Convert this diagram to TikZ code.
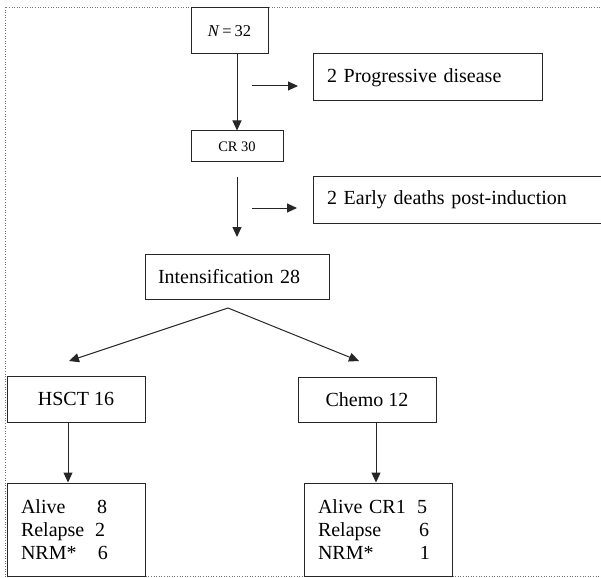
\documentclass[tikz,border=0pt]{standalone}
\usepackage{fontspec}
\setmainfont{Liberation Serif}
\usetikzlibrary{arrows.meta}
\begin{document}
\begin{tikzpicture}[x=1pt,y=-1pt,
  box/.style={draw=black!85,line width=1pt,inner sep=0pt,font=\fontsize{20}{23}\selectfont,text=black},
  lbox/.style={box,align=left,inner xsep=14pt},
  arr/.style={draw=black!85,line width=1pt,-{Triangle[length=10pt,width=9pt]}},
  frame/.style={draw=black!55,line width=0.6pt,dotted}]
\useasboundingbox (0,0) rectangle (601,577);
\clip (0,0) rectangle (601,577);
\draw[frame] (5,7) rectangle (620,576);
% nodes
\node[box,minimum width=77pt,minimum height=46pt,font=\fontsize{16.5}{19}\selectfont] (N) at (229.5,31) {\textit{N}\,=\,32};
\node[box,minimum width=92pt,minimum height=31pt,font=\fontsize{14.5}{17}\selectfont] (CR) at (237,146.5) {CR 30};
\node[lbox,minimum width=229pt,minimum height=47pt,text width=201pt] (PD) at (427.5,77.5) {2 Progressive disease};
\node[lbox,minimum width=327pt,minimum height=46pt,text width=299pt] (ED) at (476.5,200) {2 Early deaths post-induction};
\node[lbox,minimum width=184pt,minimum height=45pt,text width=158pt,inner xsep=13pt] (Int) at (237,276.5) {Intensification 28};
\node[box,minimum width=138pt,minimum height=46pt] (HS) at (76,399) {HSCT 16};
\node[box,minimum width=138pt,minimum height=45pt] (CH) at (367,399.5) {Chemo 12};
\node[lbox,minimum width=138pt,minimum height=93pt,text width=110pt] (HB) at (76,529.5)
  {\makebox[76pt][l]{Alive}8\\\makebox[74pt][l]{Relapse}2\\\makebox[77pt][l]{NRM*}6};
\node[lbox,minimum width=148pt,minimum height=93pt,text width=120pt] (CB) at (378,529.5)
  {\makebox[99pt][l]{Alive CR1}5\\\makebox[101pt][l]{Relapse}6\\\makebox[102pt][l]{NRM*}1};
% connectors
\coordinate (a1s) at (252,86);
\coordinate (a1e) at (298,86);
\coordinate (v2s) at (237,177);
\coordinate (v2e) at (237,237);
\coordinate (a2s) at (252,208);
\coordinate (a2e) at (297,208);
\coordinate (apex) at (228,308);
\coordinate (lt) at (69,361);
\coordinate (rt) at (359,361);
\draw[arr] (CR.north |- N.south) -- (CR.north);
\draw[arr] (a1s) -- (a1e);
\draw[arr] (v2s) -- (v2e);
\draw[arr] (a2s) -- (a2e);
\draw[arr] (apex) -- (lt);
\draw[arr] (apex) -- (rt);
\draw[arr] (68,422) coordinate (hsb) -- (hsb |- HB.north);
\draw[arr] (376,422) coordinate (chb) -- (chb |- CB.north);
\end{tikzpicture}
\end{document}
